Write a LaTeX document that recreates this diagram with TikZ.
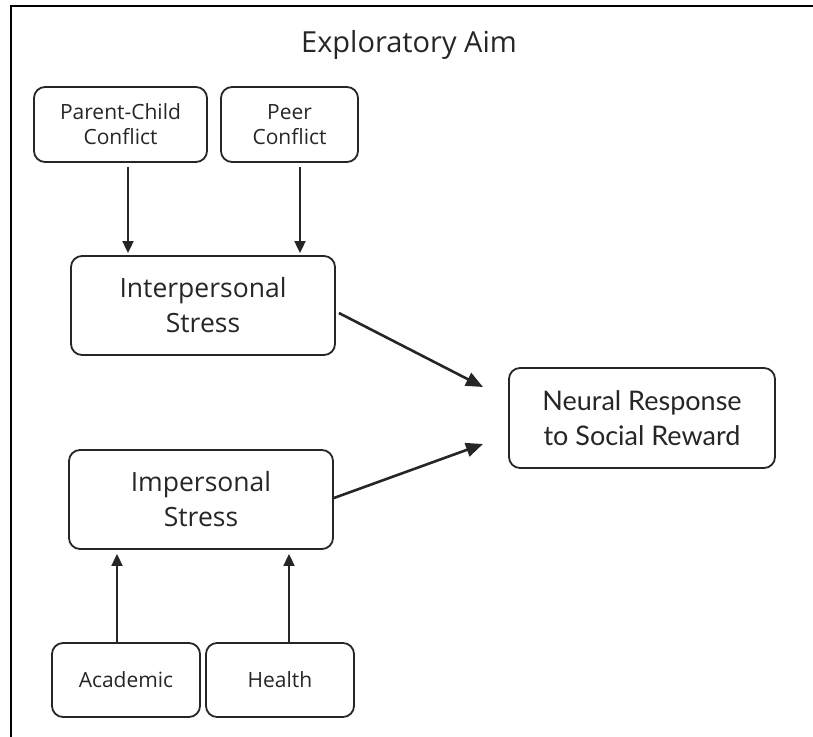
\documentclass[tikz,border=0pt]{standalone}
\usepackage{fontspec}
\setmainfont{Open Sans}
\newfontfamily\latofont{Lato}
\usepackage{tikz}
\usetikzlibrary{positioning}
\usetikzlibrary{arrows.meta}

\begin{document}
\begin{tikzpicture}[x=1pt, y=-1pt,
    box/.style={draw=black!85, line width=1.8pt, rounded corners=11pt,
        align=center, inner sep=0pt, text=black!85},
    smallbox/.style={box, font=\fontsize{21}{25}\selectfont, minimum height=75pt},
    bigbox/.style={box, font=\fontsize{26.5}{35}\selectfont, minimum width=264pt, minimum height=99pt},
    arr/.style={-{Triangle[length=12pt, width=11pt]}, line width=1.8pt, draw=black!85},
    bigarr/.style={-{Triangle[length=17pt, width=14pt]}, line width=2.6pt, draw=black!85}]

    \useasboundingbox (0,0) rectangle (813,736);

    % Frame (cut off on the right and at the bottom)
    \draw[line width=2.6pt] (11,745) -- (11,6) -- (813,6);

    % Title
    \node[font=\fontsize{29}{36}\selectfont, text=black!85] (title) at (409,45) {Exploratory Aim};

    % Sources of interpersonal stress
    \node[smallbox, minimum width=173pt] (pc) at (120.5,124.5) {Parent-Child\\Conflict};
    \node[smallbox, minimum width=137pt] (peer) at (289.5,124.5) {Peer\\Conflict};

    % Stress types
    \node[bigbox] (inter) at (203,305.5) {Interpersonal\\Stress};
    \node[bigbox] (imper) at (201,499.5) {Impersonal\\Stress};

    % Sources of impersonal stress
    \node[smallbox, minimum width=148pt, minimum height=74pt] (acad) at (126,680) {Academic};
    \node[smallbox, minimum width=148pt, minimum height=74pt] (health) at (280,680) {Health};

    % Outcome
    \node[box, font=\latofont\fontsize{27}{35}\selectfont, minimum width=266pt, minimum height=100pt] (neural) at (642,418) {Neural Response\\to Social Reward};

    % Free ends of the diagonal arrows
    \coordinate (n1) at (483,387);
    \coordinate (n2) at (483,444);

    % Arrows into interpersonal stress
    \draw[arr, shorten <=4pt, shorten >=2pt] ([xshift=7.5pt]pc.south) -- ([xshift=7.5pt]pc.south |- inter.north);
    \draw[arr, shorten <=4pt, shorten >=2pt] ([xshift=10.5pt]peer.south) -- ([xshift=10.5pt]peer.south |- inter.north);

    % Arrows into impersonal stress
    \draw[arr, shorten >=4pt] ([xshift=-9pt]acad.north) -- ([xshift=-9pt]acad.north |- imper.south);
    \draw[arr, shorten >=4pt] ([xshift=9pt]health.north) -- ([xshift=9pt]health.north |- imper.south);

    % Arrows to the outcome
    \draw[bigarr] ([yshift=-7.5pt]inter.east) ++(3,0) -- (n1);
    \draw[bigarr] ([yshift=1.5pt]imper.east) -- (n2);

\end{tikzpicture}
\end{document}
